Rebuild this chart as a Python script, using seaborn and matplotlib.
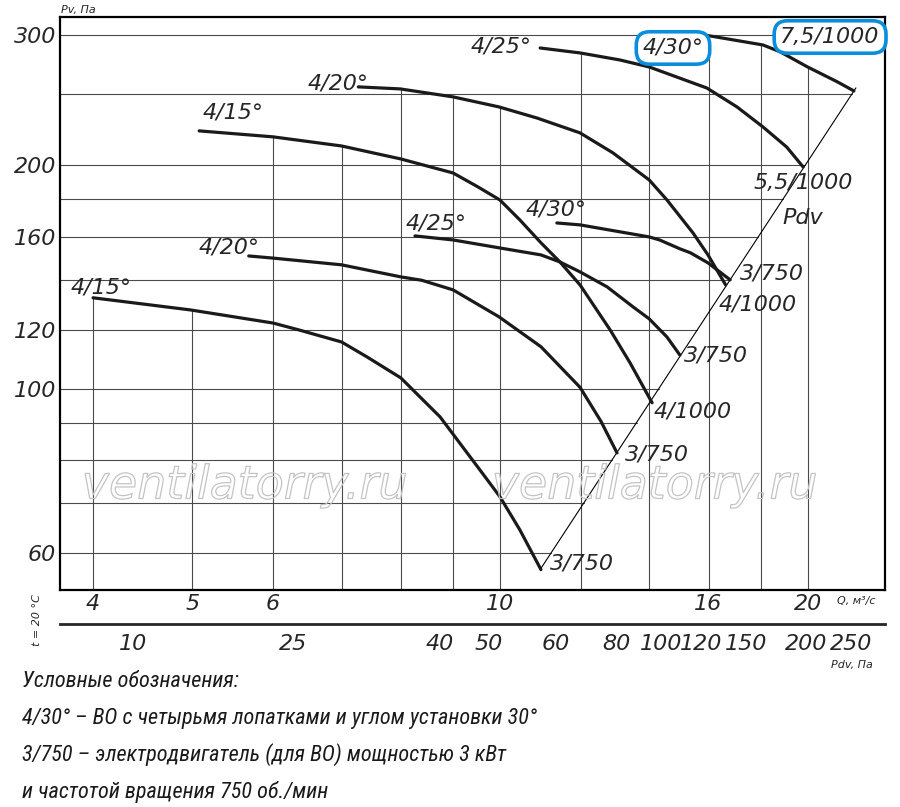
import numpy as np
import pandas as pd
import seaborn as sns
import matplotlib.pyplot as plt
import matplotlib.patheffects as pe
from matplotlib import font_manager
from matplotlib.ticker import FixedLocator, NullLocator

# Q, m3/s and Pv, Pa
# 750 rpm group (3 kW)
q_15_750 = [4.0, 4.98, 6.0, 6.36, 7.0, 7.41, 8.0, 8.74, 9.56, 10.0, 10.46, 10.97]
p_15_750 = [132.6, 127.7, 122.6, 120.0, 115.6, 110.4, 103.4, 91.6, 77.7, 71.5, 64.5, 57.0]
q_20_750 = [5.68, 6.0, 7.0, 8.0, 8.39, 9.0, 9.98, 10.97, 11.98, 12.56, 13.02]
p_20_750 = [151.0, 150.0, 146.9, 141.5, 140.0, 135.9, 125.0, 113.9, 100.4, 90.3, 81.9]
q_25_750 = [8.26, 9.0, 10.0, 10.97, 11.45, 11.98, 12.73, 13.5, 14.0, 14.57, 15.0]
p_25_750 = [160.7, 158.7, 154.8, 151.5, 148.2, 143.7, 137.2, 128.9, 124.2, 117.4, 111.0]
q_30_750 = [11.37, 11.98, 14.0, 14.33, 15.0, 15.36, 15.98, 16.8]
p_30_750 = [167.3, 166.3, 160.2, 158.7, 154.4, 152.5, 147.8, 140.2]
# 1000 rpm group
q_15_1000 = [5.08, 6.0, 7.0, 8.0, 9.0, 9.52, 10.0, 10.46, 10.97, 11.45, 11.98, 12.82, 13.41, 14.09]
p_15_1000 = [222.7, 218.6, 212.5, 204.1, 195.4, 187.1, 179.7, 168.9, 157.3, 148.2, 138.0, 120.0,
             108.3, 95.7]
q_20_1000 = [7.27, 7.99, 9.0, 9.98, 10.87, 11.98, 12.9, 14.0, 14.57, 15.45, 15.98, 16.63]
p_20_1000 = [255.3, 253.7, 247.5, 239.9, 231.8, 221.3, 208.0, 191.2, 179.7, 162.2, 151.5, 138.0]
q_25_1000 = [10.95, 11.98, 13.1, 14.0, 15.94, 17.06, 18.09, 19.08, 19.8]
p_25_1000 = [288.1, 283.7, 277.6, 271.6, 254.4, 239.9, 225.4, 211.8, 199.1]
q_30_1000 = [15.8, 16.05, 18.09, 18.81, 20.0, 21.39, 22.2]
p_30_1000 = [300.0, 299.1, 290.8, 284.6, 271.6, 259.3, 252.1]

# dynamic pressure line (curve end points lie on it)
q_pdv = [10.95, 22.3]
p_pdv = [57.0, 254.5]

q_grid = [4, 5, 6, 7, 8, 9, 10, 12, 14, 16, 18, 20]
p_grid = [60, 70, 80, 90, 100, 120, 140, 160, 180, 200, 250, 300]
q_ticks = [4, 5, 6, 10, 16, 20]
p_ticks = [60, 100, 120, 160, 200, 300]
pdv_labels = ['10', '25', '40', '50', '60', '80', '100', '120', '150', '200', '250']
pdv_at_q = [4.38, 6.28, 8.74, 9.76, 11.35, 12.99, 14.38, 15.73, 17.41, 19.94, 22.05]

curve_names = [('4/15°', 4.07, 136.7), ('4/20°', 5.43, 154.8), ('4/25°', 8.66, 166.8),
               ('4/30°', 11.35, 174.2), ('4/15°', 5.48, 235.5), ('4/20°', 6.95, 258.4),
               ('4/25°', 10.03, 289.0)]
motor_names = [('3/750', 12.03, 58.0), ('3/750', 14.25, 81.4), ('4/1000', 15.45, 93.0),
               ('3/750', 16.27, 111.0), ('4/1000', 17.89, 129.7), ('3/750', 18.46, 142.8),
               ('5,5/1000', 19.8, 189.4), ('Pdv', 19.8, 170.0)]

notes = ['Условные обозначения:',
         '4/30° – ВО с четырьмя лопатками и углом установки 30°',
         '3/750 – электродвигатель (для ВО) мощностью 3 кВт',
         'и частотой вращения 750 об./мин']

curves = {'4/15 750': (q_15_750, p_15_750), '4/20 750': (q_20_750, p_20_750),
          '4/25 750': (q_25_750, p_25_750), '4/30 750': (q_30_750, p_30_750),
          '4/15 1000': (q_15_1000, p_15_1000), '4/20 1000': (q_20_1000, p_20_1000),
          '4/25 1000': (q_25_1000, p_25_1000), '4/30 1000': (q_30_1000, p_30_1000)}
df = pd.concat([pd.DataFrame({'curve': k, 'q': v[0], 'p': v[1]}) for k, v in curves.items()])

sns.set_style('white')
plt.rcParams['font.family'] = ['DejaVu Sans']

# pick a narrow face for the notes if one is installed
names = {f.name for f in font_manager.fontManager.ttflist}
narrow = dict(family='DejaVu Sans', fontsize=13)
for n in ['Liberation Sans Narrow', 'Roboto Condensed', 'Open Sans Condensed']:
    if n in names:
        narrow = dict(family=n, fontsize=16)
        break

XL = (3.713, 23.81)
YL = (53.5, 317.2)
lab = dict(fontsize=16, style='italic')

fig = plt.figure(figsize=(9, 8.07), dpi=100)
ax = fig.add_axes([60 / 900, 1 - 590 / 807, 825 / 900, 573 / 807])
ax.set_xscale('log')
ax.set_yscale('log')
ax.set_xlim(*XL)
ax.set_ylim(*YL)

# grid clipped: verticals up to the top curve, horizontals up to the Pdv line
lq = {k: np.log(v[0]) for k, v in curves.items()}
lp = {k: np.log(v[1]) for k, v in curves.items()}
for q in q_grid:
    tops = [np.interp(np.log(q), lq[k], lp[k]) for k in curves
            if lq[k][0] - 1e-9 <= np.log(q) <= lq[k][-1] + 1e-9]
    ax.plot([q, q], [YL[0], np.exp(max(tops))], color='#4a4a4a', lw=0.8, zorder=1)
for p in p_grid:
    if p <= p_pdv[1]:
        right = np.exp(np.interp(np.log(p), np.log(p_pdv), np.log(q_pdv)))
    else:
        right = XL[1]
    ax.plot([XL[0], right], [p, p], color='#4a4a4a', lw=0.8, zorder=1)

ax.plot(q_pdv, p_pdv, color='black', lw=0.8, zorder=2)
sns.lineplot(data=df, x='q', y='p', units='curve', estimator=None, sort=False,
             color='#1a1a1a', lw=2.3, ax=ax, zorder=3)

for t, q, p in curve_names + motor_names:
    ax.text(q, p, t, ha='center', va='center', zorder=4, **lab)

box = dict(boxstyle='round,pad=0.28,rounding_size=0.6', fc='white', ec='#0a8edb', lw=2.6)
ax.text(14.77, 288.1, '4/30°', ha='center', va='center', bbox=box, zorder=5, **lab)
ax.text(21.04, 298.1, '7,5/1000', ha='center', va='center', bbox=box, zorder=5,
        clip_on=False, **lab)

ax.xaxis.set_major_locator(FixedLocator(q_ticks))
ax.xaxis.set_minor_locator(NullLocator())
ax.yaxis.set_major_locator(FixedLocator(p_ticks))
ax.yaxis.set_minor_locator(NullLocator())
ax.set_xticklabels([str(v) for v in q_ticks], **lab)
ax.set_yticklabels([str(v) for v in p_ticks], **lab)
ax.tick_params(length=0, pad=3)
ax.set_xlabel('')
ax.set_ylabel('')
for s in ax.spines.values():
    s.set_linewidth(1.6)
    s.set_color('black')

# second scale, Pdv
ax2 = fig.add_axes([60 / 900, 1 - 624 / 807, 825 / 900, 0.0005])
ax2.set_xscale('log')
ax2.set_xlim(*XL)
ax2.xaxis.set_major_locator(FixedLocator(pdv_at_q))
ax2.xaxis.set_minor_locator(NullLocator())
ax2.set_xticklabels(pdv_labels, **lab)
ax2.set_yticks([])
for k in ['left', 'right', 'top']:
    ax2.spines[k].set_visible(False)
ax2.spines['bottom'].set_linewidth(2.0)
ax2.tick_params(axis='x', direction='inout', length=12, width=1.2, pad=1)

small = dict(fontsize=8, style='italic')
fig.text(61 / 900, 1 - 10 / 807, 'Pv, Па', ha='left', va='center', **small)
fig.text(856 / 900, 1 - 601 / 807, 'Q, м³/с', ha='center', va='center', **small)
fig.text(852 / 900, 1 - 665 / 807, 'Pdv, Па', ha='center', va='center', **small)
fig.text(37 / 900, 1 - 620 / 807, 't = 20 °C', ha='center', va='center', rotation=90, **small)

for x in [245, 655]:
    fig.text(x / 900, 1 - 486 / 807, 'ventilatorry.ru', ha='center', va='center',
             fontsize=33, style='italic', color='none',
             path_effects=[pe.Stroke(linewidth=0.9, foreground='#c4c4c4')])

for line, base in zip(notes, [687, 724, 761, 798]):
    fig.text(22 / 900, 1 - base / 807, line, ha='left', va='baseline', style='italic',
             color='#1a1a1a', **narrow)

fig.savefig('out.png', dpi=100)
